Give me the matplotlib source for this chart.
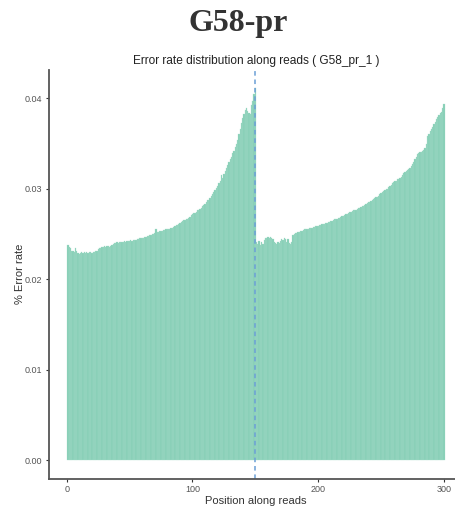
import matplotlib
matplotlib.use("Agg")
import matplotlib.pyplot as plt
import numpy as np

# Per-position error rate (positions 1..300)
error_rate = [
    0.0238, 0.0236, 0.0234, 0.0231, 0.0231, 0.0230, 0.0234, 0.0231, 0.0229, 0.0228,
    0.0229, 0.0230, 0.0229, 0.0230, 0.0229, 0.0230, 0.0229, 0.0230, 0.0230, 0.0229,
    0.0230, 0.0230, 0.0231, 0.0231, 0.0233, 0.0234, 0.0235, 0.0236, 0.0236, 0.0237,
    0.0236, 0.0237, 0.0237, 0.0236, 0.0237, 0.0238, 0.0239, 0.0240, 0.0240, 0.0241,
    0.0240, 0.0241, 0.0241, 0.0241, 0.0241, 0.0242, 0.0241, 0.0242, 0.0242, 0.0242,
    0.0243, 0.0242, 0.0243, 0.0243, 0.0243, 0.0244, 0.0244, 0.0245, 0.0245, 0.0246,
    0.0246, 0.0247, 0.0247, 0.0248, 0.0248, 0.0249, 0.0249, 0.0250, 0.0250, 0.0251,
    0.0255, 0.0252, 0.0252, 0.0253, 0.0253, 0.0253, 0.0254, 0.0254, 0.0255, 0.0255,
    0.0256, 0.0256, 0.0257, 0.0257, 0.0258, 0.0259, 0.0260, 0.0260, 0.0261, 0.0262,
    0.0263, 0.0264, 0.0265, 0.0265, 0.0266, 0.0267, 0.0268, 0.0269, 0.0271, 0.0272,
    0.0273, 0.0273, 0.0274, 0.0276, 0.0277, 0.0278, 0.0279, 0.0281, 0.0282, 0.0283,
    0.0285, 0.0287, 0.0288, 0.0290, 0.0292, 0.0294, 0.0296, 0.0298, 0.0301, 0.0303,
    0.0306, 0.0308, 0.0315, 0.0312, 0.0316, 0.0319, 0.0323, 0.0326, 0.0329, 0.0333,
    0.0335, 0.0339, 0.0342, 0.0346, 0.0349, 0.0354, 0.0360, 0.0366, 0.0372, 0.0378,
    0.0383, 0.0387, 0.0389, 0.0386, 0.0384, 0.0383, 0.0392, 0.0397, 0.0405, 0.0411,
    0.0241, 0.0239, 0.0242, 0.0238, 0.0241, 0.0239, 0.0243, 0.0245, 0.0246, 0.0247,
    0.0246, 0.0247, 0.0245, 0.0244, 0.0241, 0.0240, 0.0239, 0.0241, 0.0240, 0.0242,
    0.0244, 0.0243, 0.0245, 0.0244, 0.0241, 0.0244, 0.0240, 0.0239, 0.0241, 0.0249,
    0.0250, 0.0251, 0.0251, 0.0252, 0.0252, 0.0253, 0.0253, 0.0254, 0.0255, 0.0255,
    0.0256, 0.0256, 0.0257, 0.0257, 0.0257, 0.0258, 0.0258, 0.0259, 0.0259, 0.0259,
    0.0260, 0.0260, 0.0261, 0.0261, 0.0261, 0.0262, 0.0262, 0.0263, 0.0263, 0.0264,
    0.0264, 0.0265, 0.0266, 0.0266, 0.0267, 0.0268, 0.0268, 0.0269, 0.0270, 0.0270,
    0.0271, 0.0272, 0.0272, 0.0273, 0.0274, 0.0274, 0.0275, 0.0276, 0.0276, 0.0277,
    0.0278, 0.0279, 0.0279, 0.0280, 0.0281, 0.0281, 0.0282, 0.0283, 0.0284, 0.0285,
    0.0285, 0.0286, 0.0288, 0.0289, 0.0290, 0.0291, 0.0291, 0.0292, 0.0294, 0.0295,
    0.0296, 0.0297, 0.0298, 0.0300, 0.0300, 0.0302, 0.0303, 0.0304, 0.0306, 0.0307,
    0.0308, 0.0309, 0.0311, 0.0311, 0.0312, 0.0313, 0.0315, 0.0317, 0.0318, 0.0320,
    0.0321, 0.0322, 0.0323, 0.0325, 0.0327, 0.0330, 0.0333, 0.0335, 0.0338, 0.0339,
    0.0340, 0.0341, 0.0342, 0.0343, 0.0345, 0.0349, 0.0358, 0.0360, 0.0364, 0.0366,
    0.0368, 0.0371, 0.0374, 0.0377, 0.0379, 0.0381, 0.0384, 0.0385, 0.0389, 0.0393,
]
positions = list(range(1, len(error_rate) + 1))
read1_end = 150

x_ticks = [0, 100, 200, 300]
y_ticks = [0.00, 0.01, 0.02, 0.03, 0.04]
y_tick_labels = ["0.00", "0.01", "0.02", "0.03", "0.04"]

sans = ["Liberation Sans", "DejaVu Sans"]
serif = ["Liberation Serif", "DejaVu Serif"]

fig = plt.figure(figsize=(4.55, 5.08), dpi=100)
ax = fig.add_axes([0.1066, 0.0571, 0.912, 0.806])

ax.bar(positions, error_rate, width=1.0, color="#86cfb6",
       edgecolor="#a6ddca", linewidth=0.2)
ax.axvline(read1_end, color="#6b9fd6", linestyle=(0, (3, 2.5)), linewidth=1.1)

ymax = max(error_rate)
pad_y = 0.05 * ymax
ax.set_ylim(-pad_y, ymax + pad_y)
ax.set_xlim(0.5 - 15, 300.5 + 15)

ax.set_xticks(x_ticks)
ax.set_xticklabels([str(t) for t in x_ticks], fontfamily=sans)
ax.set_yticks(y_ticks)
ax.set_yticklabels(y_tick_labels, fontfamily=sans)
ax.tick_params(axis="both", labelsize=6.5, colors="#555555", length=2.5,
               width=0.8, pad=2)
ax.tick_params(axis="both", color="#333333")

for side in ("top", "right"):
    ax.spines[side].set_visible(False)
for side in ("left", "bottom"):
    ax.spines[side].set_color("#555555")
    ax.spines[side].set_linewidth(1.3)

ax.set_xlabel("Position along reads", fontfamily=sans, fontsize=8,
              color="#333333", labelpad=1.5)
ax.set_ylabel("% Error rate", fontfamily=sans, fontsize=8,
              color="#333333", labelpad=-0.5)

fig.text(0.5626, 1 - 61 / 508, "Error rate distribution along reads ( G58_pr_1 )",
         ha="center", va="center", fontfamily=sans, fontsize=8.6, color="#222222")
fig.text(0.524, 1 - 24 / 508, "G58-pr", ha="center", va="center",
         fontfamily=serif, fontweight="bold", fontsize=23, color="#333333")

fig.savefig("out.png", dpi=100)
